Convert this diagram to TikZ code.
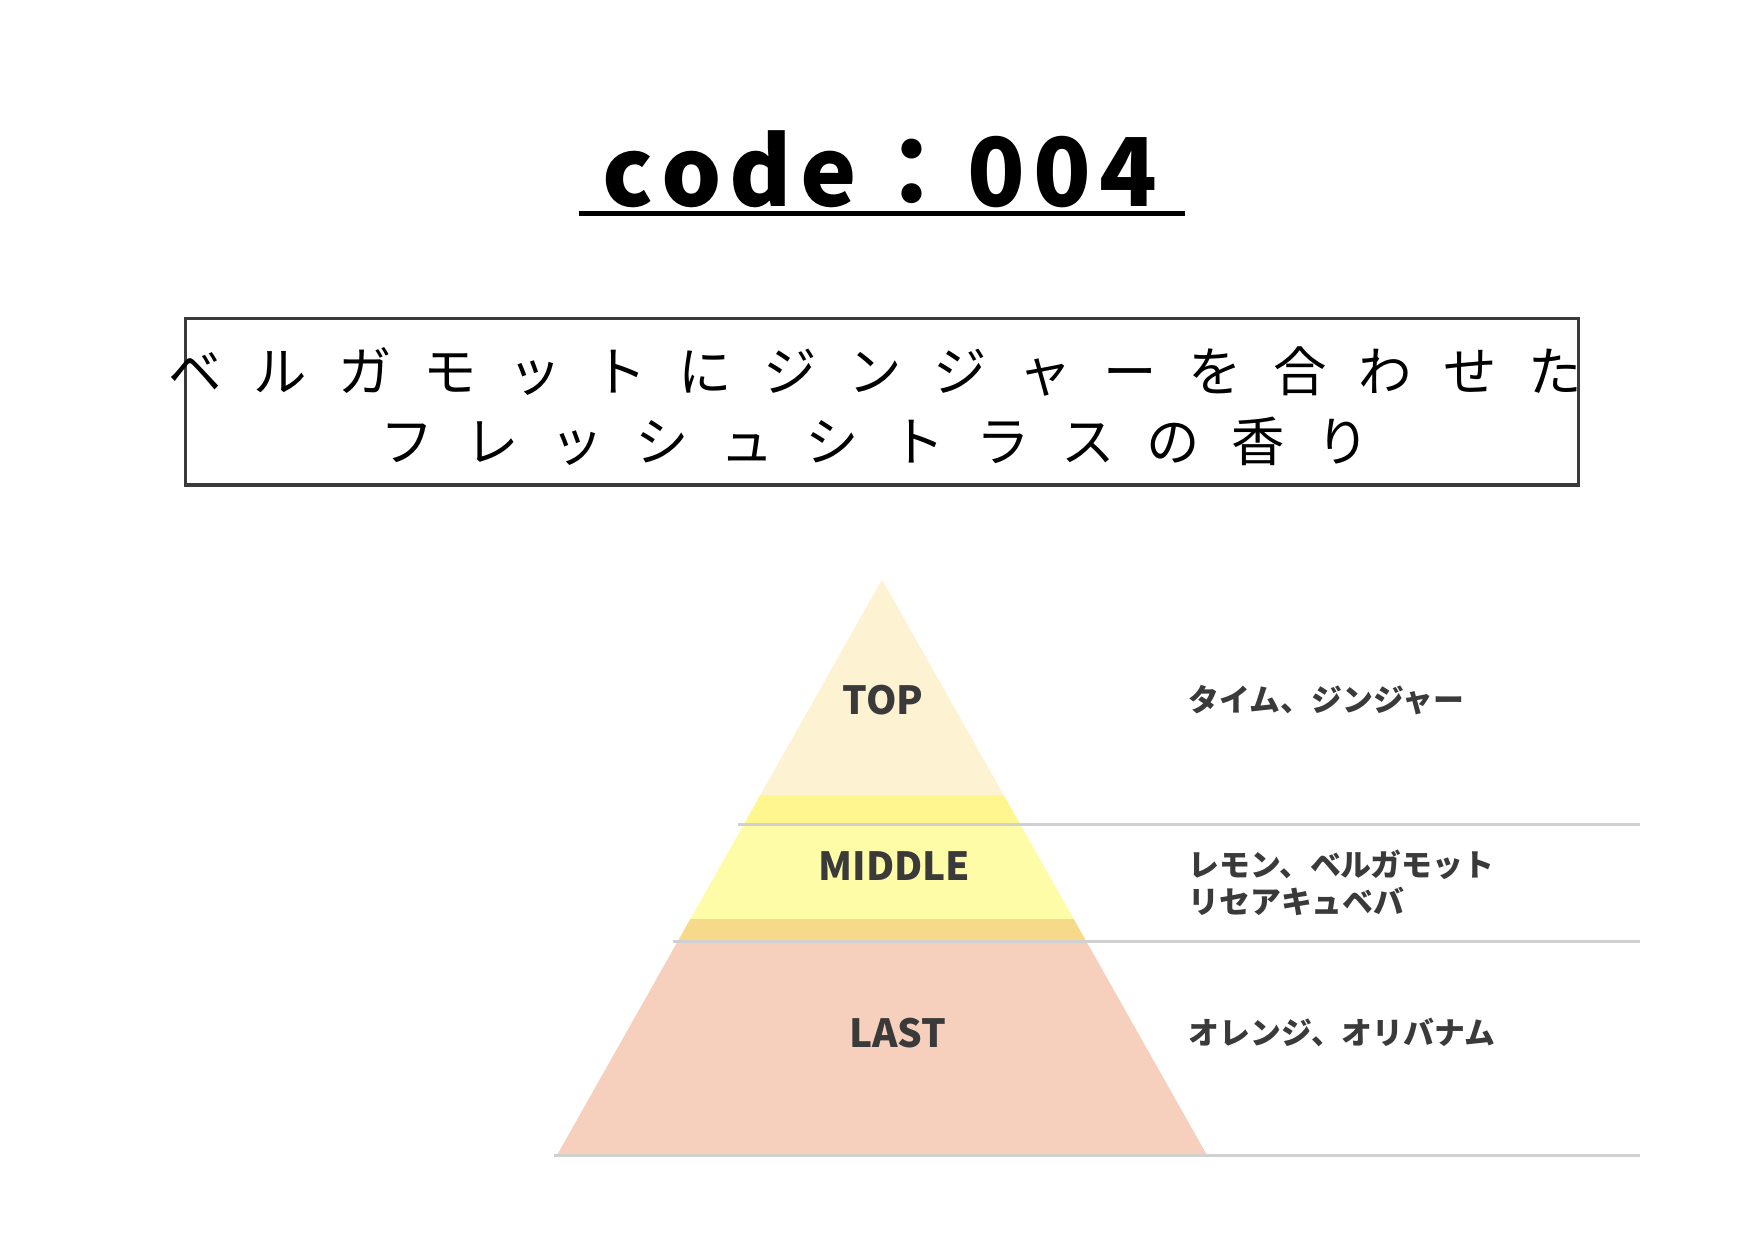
\documentclass[tikz,border=0pt]{standalone}
\usepackage{fontspec}
\setmainfont{Noto Sans CJK JP}
\newfontfamily\jpfont{Noto Sans CJK JP}
\usetikzlibrary{positioning}
\definecolor{cream}{HTML}{FDF3D2}
\definecolor{ybandtop}{HTML}{FFF68F}
\definecolor{ymid}{HTML}{FFFCA8}
\definecolor{oband}{HTML}{F7D98A}
\definecolor{salmon}{HTML}{F6D0BD}
\definecolor{txtgray}{HTML}{3A3A3A}
\definecolor{rulegray}{HTML}{D0D0D0}
\tikzset{
  layer/.style={font=\jpfont\fontsize{9.8}{12}\selectfont\bfseries,text=txtgray},
  note/.style={font=\jpfont\fontsize{7.8}{9.4}\selectfont\bfseries,text=txtgray,anchor=west,align=left},
  level/.style={rulegray,line width=0.6pt}
}
\begin{document}
\begin{tikzpicture}[x=0.01cm,y=-0.01cm]
		\useasboundingbox (0,0) rectangle (1560,1102);
		% title
		\node (title) at (782,150) {\fontsize{24}{28}\selectfont\bfseries c\kern2pt o\kern2pt d\kern2pt e\kern2pt ：\kern2pt 0\kern2pt 0\kern2pt 4};
		\draw[line width=1.2pt] (515,190) -- (1053,190);
		% caption box
		\draw[line width=0.9pt,txtgray] (165,283) rectangle (1403,431);
		\node (capA) at (778,330) {\fontsize{13.5}{15}\selectfont ベ\kern8pt ル\kern8pt ガ\kern8pt モ\kern8pt ッ\kern8pt ト\kern8pt に\kern8pt ジ\kern8pt ン\kern8pt ジ\kern8pt ャ\kern8pt ー\kern8pt を\kern8pt 合\kern8pt わ\kern8pt せ\kern8pt た};
		\node (capB) at (778,392) {\fontsize{13.5}{15}\selectfont フ\kern8pt レ\kern8pt ッ\kern8pt シ\kern8pt ュ\kern8pt シ\kern8pt ト\kern8pt ラ\kern8pt ス\kern8pt の\kern8pt 香\kern8pt り};
		% pyramid
		\begin{scope}
			\clip (784,515) -- (1073,1027) -- (495,1027) -- cycle;
			\fill[cream] (400,500) rectangle (1200,707);
			\fill[ybandtop] (400,707) rectangle (1200,733);
			\fill[ymid] (400,733) rectangle (1200,817);
			\fill[oband] (400,817) rectangle (1200,837);
			\fill[salmon] (400,837) rectangle (1200,1027);
		\end{scope}
		%
		\draw[level] (656,733) -- (1458,733);
		\draw[level] (598,837) -- (1458,837);
		\draw[level] (492,1027) -- (1458,1027);
		%
		\node[layer] (top) at (785,622) {TOP};
		\node[layer] (middle) at (795,770) {MIDDLE};
		\node[layer] (last) at (798,918) {LAST};
		%
		\node[note] (topnote) at (1044,622) {タイム、ジンジャー};
		\node[note] (midnote) at (1044,785) {レモン、ベルガモット\\リセアキュベバ};
		\node[note] (lastnote) at (1044,918) {オレンジ、オリバナム};
	\end{tikzpicture}
\end{document}
